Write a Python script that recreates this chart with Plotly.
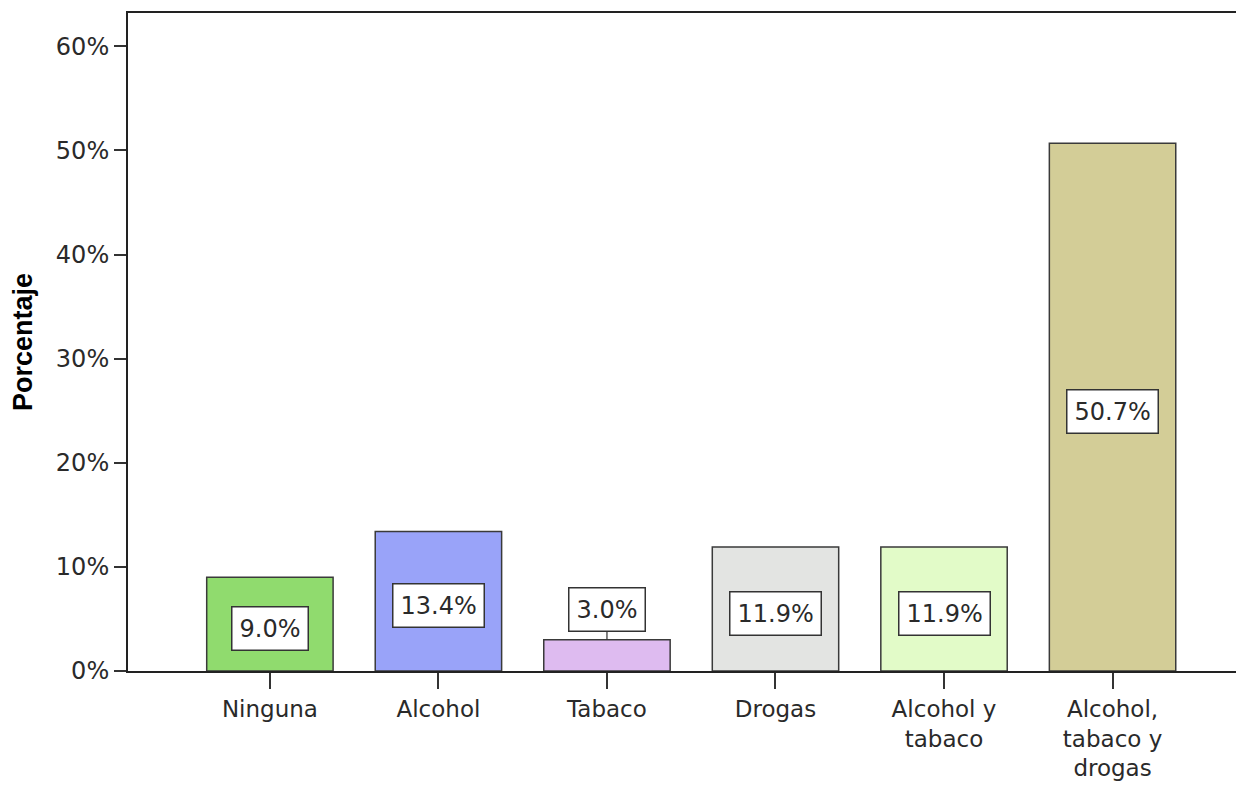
import plotly.graph_objects as go

categories = ["Ninguna", "Alcohol", "Tabaco", "Drogas", "Alcohol y<br>tabaco", "Alcohol,<br>tabaco y<br>drogas"]
values = [9.0, 13.4, 3.0, 11.9, 11.9, 50.7]
labels = ["9.0%", "13.4%", "3.0%", "11.9%", "11.9%", "50.7%"]
colors = ["#90DB6E", "#99A3F9", "#DEBBF0", "#E3E4E2", "#E2FBC8", "#D3CD97"]
y_ticks = [0, 10, 20, 30, 40, 50, 60]
y_tick_text = ["0%", "10%", "20%", "30%", "40%", "50%", "60%"]

FONT = "DejaVu Sans, sans-serif"
TITLE_FONT = "Liberation Sans, Arial, sans-serif"
TXT = "#2a2a2a"

fig = go.Figure()
fig.add_trace(go.Bar(
    x=list(range(len(categories))),
    y=values,
    width=0.75,
    marker=dict(color=colors, line=dict(color="#3a3a3a", width=1.5)),
    hoverinfo="skip",
))

annotations = []
for i, (v, t) in enumerate(zip(values, labels)):
    common = dict(
        x=i, text=t, font=dict(family=FONT, size=24, color=TXT),
        bgcolor="white", bordercolor="#333", borderwidth=1.5, borderpad=7,
        xref="x", yref="y",
    )
    if v < 5:
        annotations.append(dict(y=v, showarrow=True, arrowhead=0, arrowwidth=1.2,
                                arrowcolor="#333", ax=0, ay=-30, **common))
    else:
        annotations.append(dict(y=v / 2, showarrow=False, yshift=-4, **common))

# page body has an 8px default margin, so the figure is sized to fit the window
fig.update_layout(
    width=1236, height=778,
    margin=dict(l=120, r=0, t=5, b=115),
    plot_bgcolor="white", paper_bgcolor="white",
    showlegend=False,
    annotations=annotations,
    font=dict(family=FONT, size=24, color=TXT),
    xaxis=dict(
        range=[-0.842, 5.78], automargin=False,
        tickmode="array", tickvals=list(range(len(categories))), ticktext=categories,
        showline=True, linecolor="#222", linewidth=2, mirror=True,
        ticks="outside", ticklen=16, tickwidth=2, tickcolor="#333",
        showgrid=False, zeroline=False,
        tickfont=dict(family=FONT, size=23, color=TXT),
    ),
    yaxis=dict(
        range=[0, 63.2], automargin=False,
        tickmode="array", tickvals=y_ticks, ticktext=y_tick_text,
        showline=True, linecolor="#222", linewidth=2,
        ticks="outside", ticklen=12, tickwidth=2, tickcolor="#333",
        showgrid=False, zeroline=False,
        tickfont=dict(family=FONT, size=24, color=TXT),
        title=dict(text="<b>Porcentaje</b>", font=dict(family=TITLE_FONT, size=27, color="black")),
    ),
)

fig.write_html("out.html")
